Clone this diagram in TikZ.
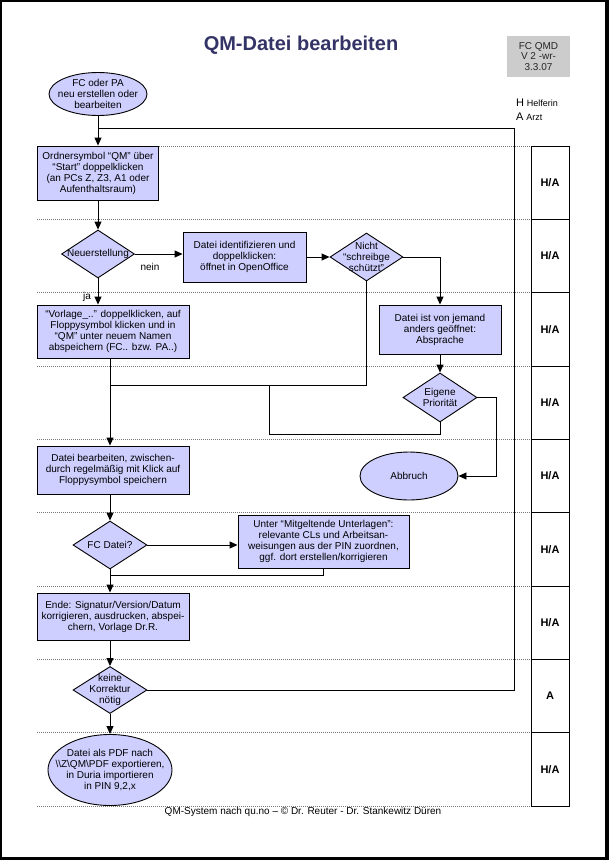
\documentclass[tikz,border=0pt]{standalone}
\usepackage{fontspec}
\setmainfont{Liberation Sans}
\usetikzlibrary{arrows.meta,shapes.geometric}
\definecolor{lav}{RGB}{206,206,255}
\definecolor{titleblue}{RGB}{51,51,102}
\definecolor{sepgray}{RGB}{120,120,120}
\definecolor{qmdgray}{RGB}{204,204,204}
\begin{document}
\begin{tikzpicture}[x=1pt,y=-1pt,
  txt/.style={font=\fontsize{10}{11}\selectfont, align=center, inner sep=0pt},
  box/.style={draw=black, line width=0.9pt, fill=lav, rectangle, inner sep=0pt, font=\fontsize{10}{11}\selectfont, align=center},
  dia/.style={draw=black, line width=0.9pt, fill=lav, diamond, inner sep=0pt},
  ell/.style={draw=black, line width=0.9pt, fill=lav, ellipse, inner sep=0pt},
  conn/.style={line width=0.9pt},
  arr/.style={conn, -{Triangle[length=8pt,width=7pt]}},
  sep/.style={sepgray, line width=0.6pt, dash pattern=on 1pt off 1pt},
  role/.style={draw=black, line width=0.8pt, minimum width=38pt, minimum height=73.33pt, inner sep=0pt, font=\bfseries\fontsize{11}{12}\selectfont}
]
\useasboundingbox (0,0) rectangle (609,860);
\fill[black] (0,0) rectangle (609,860);
\fill[white] (1.5,1.5) rectangle (605,856.5);

% separators
\foreach \yy in {0,...,9} {
  \draw[sep] (37,146+73.33*\yy) -- (531,146+73.33*\yy);
}

% title, header
\node[font=\bfseries\fontsize{20}{22}\selectfont, text=titleblue] (title) at (301,45) {QM-Datei bearbeiten};
\node[fill=qmdgray, minimum width=63pt, minimum height=41pt, inner sep=0pt, font=\fontsize{10}{10.8}\selectfont, align=center, text=black!85] (qmd) at (538.5,56.5) {FC QMD\\V 2 -wr-\\3.3.07};
\node[anchor=west, inner sep=0pt] (legh) at (516,103) {{\fontsize{11}{12}\selectfont H} {\fontsize{9}{10}\selectfont Helferin}};
\node[anchor=west, inner sep=0pt] (lega) at (516,117) {{\fontsize{11}{12}\selectfont A} {\fontsize{9}{10}\selectfont Arzt}};

% role column
\node[role] (r1) at (550,146+73.33*0.5) {H/A};
\node[role] (r2) at (550,146+73.33*1.5) {H/A};
\node[role] (r3) at (550,146+73.33*2.5) {H/A};
\node[role] (r4) at (550,146+73.33*3.5) {H/A};
\node[role] (r5) at (550,146+73.33*4.5) {H/A};
\node[role] (r6) at (550,146+73.33*5.5) {H/A};
\node[role] (r7) at (550,146+73.33*6.5) {H/A};
\node[role] (r8) at (550,146+73.33*7.5) {A};
\node[role] (r9) at (550,146+73.33*8.5) {H/A};

% flow nodes
\node[ell, minimum width=98pt, minimum height=43pt] (start) at (98,94) {};
\node[txt] (startt) at (start) {FC oder PA\\neu erstellen oder\\bearbeiten};

\node[box, minimum width=121pt, minimum height=54pt] (b1) at (98,173) {Ordnersymbol “QM” über\\“Start” doppelklicken\\(an PCs Z, Z3, A1 oder\\Aufenthaltsraum)};

\node[dia, minimum width=73pt, minimum height=48pt] (d1) at (98,254) {};
\node[txt] (d1t) at (d1) {Neuerstellung};

\node[box, minimum width=123pt, minimum height=50pt] (b2) at (244.5,257) {Datei identifizieren und\\doppelklicken:\\öffnet in OpenOffice};

\node[dia, minimum width=73pt, minimum height=48pt] (d2) at (366.5,257) {};
\node[txt] (d2t) at (d2) {Nicht\\“schreibge\\schützt”};

\node[box, minimum width=152pt, minimum height=53pt] (b3) at (113,331.5) {“Vorlage\_..” doppelklicken, auf\\Floppysymbol klicken und in\\“QM” unter neuem Namen\\abspeichern (FC.. bzw. PA..)};

\node[box, minimum width=122pt, minimum height=49pt] (b4) at (440,329.5) {Datei ist von jemand\\anders geöffnet:\\Absprache};

\node[dia, minimum width=74pt, minimum height=49pt] (d3) at (440,397.5) {};
\node[txt] (d3t) at (d3) {Eigene\\Priorität};

\node[box, minimum width=152pt, minimum height=48pt] (b5) at (113,470) {Datei bearbeiten, zwischen-\\durch regelmäßig mit Klick auf\\Floppysymbol speichern};

\node[ell, minimum width=98pt, minimum height=48pt] (e2) at (409,476) {};
\node[txt] (e2t) at (e2) {Abbruch};

\node[dia, minimum width=74pt, minimum height=48pt] (d4) at (110,545) {};
\node[txt] (d4t) at (d4) {FC Datei?};

\node[box, minimum width=171pt, minimum height=53pt] (b6) at (323.5,541.5) {Unter “Mitgeltende Unterlagen”:\\relevante CLs und Arbeitsan-\\weisungen aus der PIN zuordnen,\\ggf. dort erstellen/korrigieren};

\node[box, minimum width=152pt, minimum height=47pt] (b7) at (113,616.5) {Ende: Signatur/Version/Datum\\korrigieren, ausdrucken, abspei-\\chern, Vorlage Dr.R.};

\node[dia, minimum width=74pt, minimum height=47pt] (d5) at (110,690) {};
\node[txt] (d5t) at (d5) {keine\\Korrektur\\nötig};

\node[ell, minimum width=124pt, minimum height=71pt] (e3) at (110,770) {};
\node[txt] (e3t) at (e3) {Datei als PDF nach\\\textbackslash\textbackslash Z\textbackslash QM\textbackslash PDF exportieren,\\in Duria importieren\\in PIN 9,2,x};

\node[font=\fontsize{10}{11}\selectfont, inner sep=0pt] (foot) at (303,812) {QM-System nach qu.no – © Dr. Reuter - Dr. Stankewitz Düren};

% labels
\node[txt] (nein) at (150,267) {nein};
\node[txt] (ja) at (87,297) {ja};

% helper coordinates
\coordinate (c1) at (110,385);
\coordinate (c2) at (269,434);
\coordinate (c3) at (269,385);
\coordinate (c4) at (496,476);
\coordinate (c6) at (110,575);
\coordinate (c7) at (514,128);
\coordinate (c8) at (98,128);

% connectors
\draw[arr] (start.south) -- (b1.north);
\draw[arr] (b1.south) -- (d1.north);
\draw[arr] (d1.east) -- (d1.east -| b2.west);
\draw[arr] (d1.south) -- (d1.south |- b3.north);
\draw[arr] (b2.east |- d2.west) -- (d2.west);
\draw[arr] (d2.east) -| (b4.north);
\draw[conn] (d2.south) |- (c1);
\draw[arr] (b4.south) -- (d3.north);
\draw[conn] (d3.south) |- (c2) -- (c3);
\draw[arr] (d3.east) -| (c4) -- (e2.east);
\draw[arr] (d4 |- b3.south) -- (d4 |- b5.north);
\draw[arr] (d4 |- b5.south) -- (d4.north);
\draw[arr] (d4.east) -- (d4.east -| b6.west);
\draw[conn] (b6.south) |- (c6);
\draw[arr] (d4.south) -- (d4 |- b7.north);
\draw[arr] (d4 |- b7.south) -- (d5.north);
\draw[arr] (d5.south) -- (e3.north);
\draw[conn] (d5.east) -| (c7) -- (c8);
\end{tikzpicture}
\end{document}
